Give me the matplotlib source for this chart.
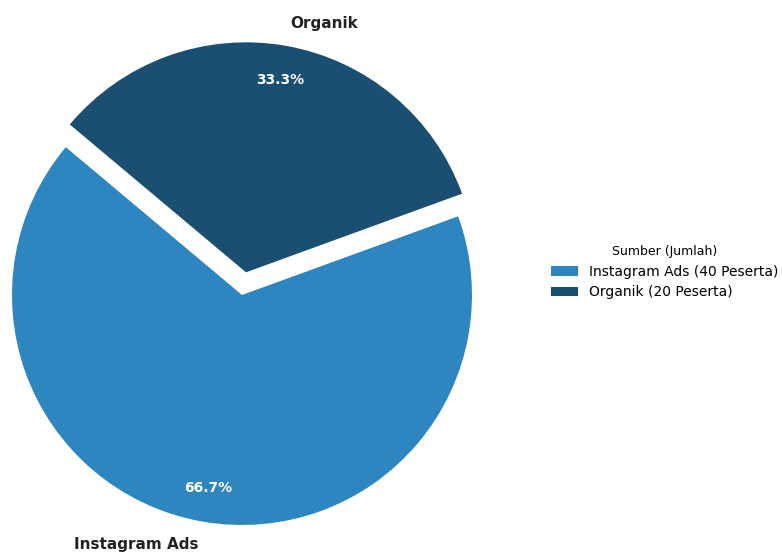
import matplotlib

matplotlib.use("Agg")
import matplotlib.pyplot as plt

sources = ["Instagram Ads", "Organik"]
counts = [40, 20]
colors = ["#2E86C1", "#1B4F72"]
explode = [0, 0.1]


def main():
    fig = plt.figure(figsize=(7.82, 5.54), dpi=100)
    ax = fig.add_axes([-0.0582, -0.0514, 0.7353, 1.0379])
    wedges, texts, autotexts = ax.pie(
        counts,
        labels=sources,
        colors=colors,
        explode=explode,
        startangle=140,
        autopct="%1.1f%%",
        pctdistance=0.85,
        textprops={"fontsize": 11, "fontweight": "bold", "color": "#222222"},
    )
    for t in autotexts:
        t.set_color("white")
        t.set_fontsize(10)

    legend_labels = [f"{s} ({c} Peserta)" for s, c in zip(sources, counts)]
    fig.legend(
        wedges,
        legend_labels,
        title="Sumber (Jumlah)",
        loc="center left",
        bbox_to_anchor=(0.688, 0.509),
        frameon=False,
        fontsize=10,
        title_fontsize=9,
    )
    fig.savefig("out.png", dpi=100)
    plt.close(fig)


if __name__ == "__main__":
    main()
